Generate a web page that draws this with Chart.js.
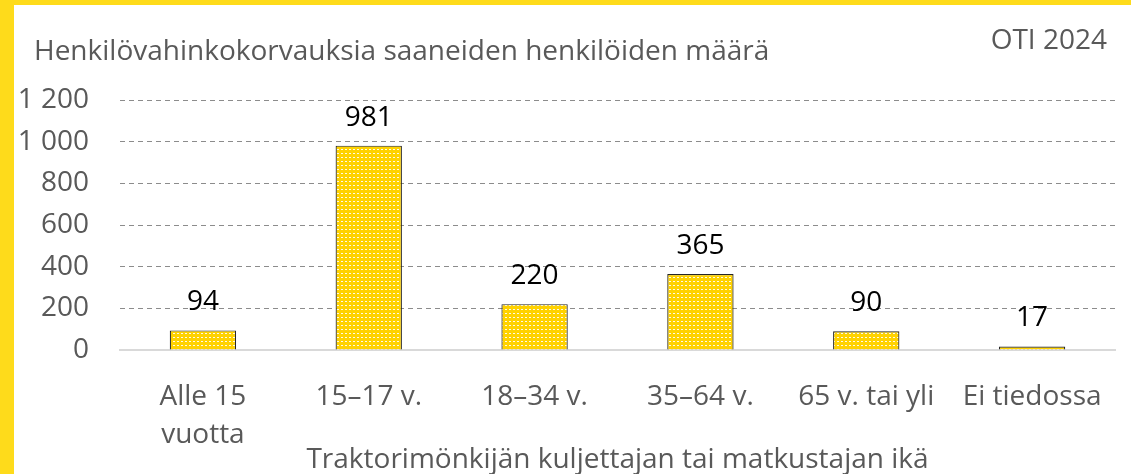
<!DOCTYPE html>
<html>
<head>
<meta charset="utf-8">
<script src="https://cdn.jsdelivr.net/npm/chart.js@4.4.1/dist/chart.umd.min.js"></script>
<style>
  html, body { margin: 0; padding: 0; background: #fff; }
  #wrap { width: 1131px; height: 474px; position: relative; }
</style>
</head>
<body>
<div id="wrap"><canvas id="ageChart" width="1131" height="474"></canvas></div>
<script>
const categories = [['Alle 15', 'vuotta'], '15–17 v.', '18–34 v.', '35–64 v.', '65 v. tai yli', 'Ei tiedossa'];
const values = [94, 981, 220, 365, 90, 17];
const yTicks = [0, 200, 400, 600, 800, 1000, 1200];

const chartTitle = 'Henkilövahinkokorvauksia saaneiden henkilöiden määrä';
const sourceNote = 'OTI 2024';
const xTitle = 'Traktorimönkijän kuljettajan tai matkustajan ikä';

const fontFamily = "'Open Sans', 'Noto Sans', sans-serif";
const grey = '#595959';
const yellow = '#FEDB1B';

// dotted yellow fill like the original bar pattern
function dotPattern() {
    const c = document.createElement('canvas');
    c.width = 4;
    c.height = 4;
    const p = c.getContext('2d');
    p.fillStyle = '#FFD200';
    p.fillRect(0, 0, 4, 4);
    p.fillStyle = 'rgba(255,255,255,0.9)';
    p.fillRect(1, 1, 2, 1);
    return p.createPattern(c, 'repeat');
}

function formatNum(v) {
    return String(v).replace(/\B(?=(\d{3})+(?!\d))/g, ' ');
}

const frameAndTexts = {
    id: 'frameAndTexts',
    beforeDraw(chart) {
        const { ctx } = chart;
        ctx.save();
        ctx.fillStyle = yellow;
        ctx.fillRect(0, 0, 14, chart.height);
        ctx.fillRect(0, 0, chart.width, 5);
        ctx.fillStyle = grey;
        ctx.font = `28px ${fontFamily}`;
        ctx.textBaseline = 'alphabetic';
        ctx.textAlign = 'left';
        ctx.fillText(chartTitle, 34, 60);
        ctx.textAlign = 'right';
        ctx.fillText(sourceNote, 1107, 49);
        ctx.restore();
    },
    afterDatasetsDraw(chart) {
        const { ctx } = chart;
        const meta = chart.getDatasetMeta(0);
        ctx.save();
        ctx.fillStyle = '#000';
        ctx.font = `28px ${fontFamily}`;
        ctx.textAlign = 'center';
        ctx.textBaseline = 'middle';
        meta.data.forEach((bar, i) => {
            ctx.fillText(formatNum(values[i]), bar.x, bar.y - 28);
        });
        ctx.restore();
    }
};

const ctx = document.getElementById('ageChart').getContext('2d');
const ageChart = new Chart(ctx, {
    type: 'bar',
    data: {
        labels: categories,
        datasets: [{
            data: values,
            backgroundColor: dotPattern(),
            borderColor: '#262626',
            borderWidth: 1.2,
            barPercentage: 0.4,
            categoryPercentage: 1
        }]
    },
    options: {
        responsive: false,
        animation: false,
        layout: {
            padding: { left: 14, right: 16, top: 100, bottom: 0 }
        },
        plugins: {
            legend: { display: false },
            tooltip: { enabled: false }
        },
        scales: {
            x: {
                afterFit(scale) {
                    scale.height = 124;
                },
                grid: { display: false },
                border: { display: true, color: '#d9d9d9', width: 2 },
                ticks: {
                    color: grey,
                    font: { family: fontFamily, size: 28, lineHeight: 1.36 },
                    padding: 20,
                    maxRotation: 0,
                    autoSkip: false
                },
                title: {
                    display: true,
                    text: xTitle,
                    color: grey,
                    font: { family: fontFamily, size: 28 },
                    padding: { top: 0, bottom: -3 }
                }
            },
            y: {
                min: 0,
                max: 1200,
                afterBuildTicks(scale) {
                    scale.ticks = yTicks.map(v => ({ value: v }));
                },
                afterFit(scale) {
                    scale.width = 106;
                },
                grid: {
                    drawTicks: false,
                    color: c => (c.tick && c.tick.value === 0) ? 'rgba(0,0,0,0)' : '#8c8c8c',
                    lineWidth: 1
                },
                border: { display: false, dash: [5, 4] },
                ticks: {
                    color: grey,
                    font: { family: fontFamily, size: 28 },
                    padding: 31,
                    callback: v => formatNum(v)
                }
            }
        }
    },
    plugins: [frameAndTexts]
});
</script>
</body>
</html>
